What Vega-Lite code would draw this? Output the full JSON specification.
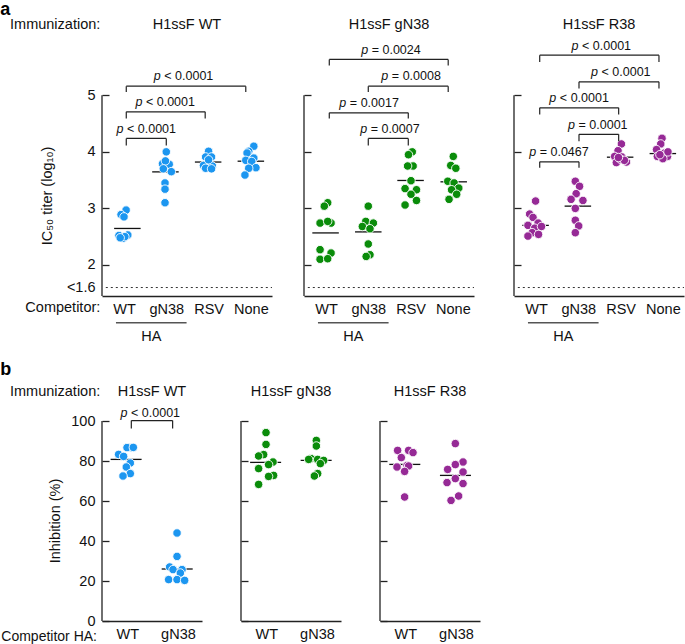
{
"$schema":"https://vega.github.io/schema/vega-lite/v6.json",
"padding":{"left":0,"top":0,"right":0,"bottom":0},
"config":{"font":"Liberation Sans","view":{"stroke":null},
"axis":{"grid":false,"labelFontSize":14.5,"labelColor":"#111","domainColor":"#222","tickColor":"#222","titleFontWeight":"normal","titleFontSize":14.5,"titleColor":"#111"}},
"datasets":{
"one":[{}],
"pts":[
{"row":"a","panel":"WT","comp":"WT","pos":1.05,"val":2.97},{"row":"a","panel":"WT","comp":"WT","pos":0.93,"val":2.89},{"row":"a","panel":"WT","comp":"WT","pos":1.0,"val":2.85},{"row":"a","panel":"WT","comp":"WT","pos":0.88,"val":2.52},{"row":"a","panel":"WT","comp":"WT","pos":1.09,"val":2.53},{"row":"a","panel":"WT","comp":"WT","pos":0.98,"val":2.47},{"row":"a","panel":"WT","comp":"WT","pos":1.02,"val":2.50},{"row":"a","panel":"WT","comp":"WT","pos":0.91,"val":2.48},
{"row":"a","panel":"WT","comp":"gN38","pos":2.0,"val":4.00},{"row":"a","panel":"WT","comp":"gN38","pos":1.91,"val":3.79},{"row":"a","panel":"WT","comp":"gN38","pos":2.07,"val":3.78},{"row":"a","panel":"WT","comp":"gN38","pos":2.12,"val":3.65},{"row":"a","panel":"WT","comp":"gN38","pos":1.98,"val":3.84},{"row":"a","panel":"WT","comp":"gN38","pos":1.97,"val":3.45},{"row":"a","panel":"WT","comp":"gN38","pos":1.97,"val":3.34},{"row":"a","panel":"WT","comp":"gN38","pos":1.97,"val":3.10},{"row":"a","panel":"WT","comp":"gN38","pos":1.93,"val":3.70},
{"row":"a","panel":"WT","comp":"RSV","pos":3.0,"val":4.01},{"row":"a","panel":"WT","comp":"RSV","pos":2.93,"val":3.91},{"row":"a","panel":"WT","comp":"RSV","pos":3.07,"val":3.91},{"row":"a","panel":"WT","comp":"RSV","pos":3.0,"val":3.81},{"row":"a","panel":"WT","comp":"RSV","pos":2.88,"val":3.76},{"row":"a","panel":"WT","comp":"RSV","pos":3.09,"val":3.75},{"row":"a","panel":"WT","comp":"RSV","pos":2.93,"val":3.71},{"row":"a","panel":"WT","comp":"RSV","pos":3.07,"val":3.70},{"row":"a","panel":"WT","comp":"RSV","pos":3.0,"val":3.86},
{"row":"a","panel":"WT","comp":"None","pos":4.07,"val":4.10},{"row":"a","panel":"WT","comp":"None","pos":3.95,"val":4.01},{"row":"a","panel":"WT","comp":"None","pos":3.91,"val":3.98},{"row":"a","panel":"WT","comp":"None","pos":4.07,"val":3.89},{"row":"a","panel":"WT","comp":"None","pos":3.88,"val":3.85},{"row":"a","panel":"WT","comp":"None","pos":4.02,"val":3.83},{"row":"a","panel":"WT","comp":"None","pos":4.12,"val":3.72},{"row":"a","panel":"WT","comp":"None","pos":3.95,"val":3.71},{"row":"a","panel":"WT","comp":"None","pos":3.86,"val":3.59},
{"row":"a","panel":"gN38","comp":"WT","pos":1.04,"val":3.10},{"row":"a","panel":"gN38","comp":"WT","pos":0.96,"val":3.04},{"row":"a","panel":"gN38","comp":"WT","pos":0.86,"val":2.74},{"row":"a","panel":"gN38","comp":"WT","pos":1.12,"val":2.74},{"row":"a","panel":"gN38","comp":"WT","pos":1.04,"val":2.77},{"row":"a","panel":"gN38","comp":"WT","pos":0.86,"val":2.27},{"row":"a","panel":"gN38","comp":"WT","pos":1.12,"val":2.21},{"row":"a","panel":"gN38","comp":"WT","pos":0.86,"val":2.10},{"row":"a","panel":"gN38","comp":"WT","pos":1.04,"val":2.11},
{"row":"a","panel":"gN38","comp":"gN38","pos":2.0,"val":3.04},{"row":"a","panel":"gN38","comp":"gN38","pos":1.94,"val":2.77},{"row":"a","panel":"gN38","comp":"gN38","pos":2.12,"val":2.74},{"row":"a","panel":"gN38","comp":"gN38","pos":1.86,"val":2.68},{"row":"a","panel":"gN38","comp":"gN38","pos":2.04,"val":2.64},{"row":"a","panel":"gN38","comp":"gN38","pos":2.0,"val":2.37},{"row":"a","panel":"gN38","comp":"gN38","pos":2.04,"val":2.18},{"row":"a","panel":"gN38","comp":"gN38","pos":1.95,"val":2.15},
{"row":"a","panel":"gN38","comp":"RSV","pos":3.04,"val":4.0},{"row":"a","panel":"gN38","comp":"RSV","pos":2.95,"val":3.95},{"row":"a","panel":"gN38","comp":"RSV","pos":3.06,"val":3.75},{"row":"a","panel":"gN38","comp":"RSV","pos":2.93,"val":3.75},{"row":"a","panel":"gN38","comp":"RSV","pos":3.01,"val":3.49},{"row":"a","panel":"gN38","comp":"RSV","pos":2.87,"val":3.35},{"row":"a","panel":"gN38","comp":"RSV","pos":3.14,"val":3.33},{"row":"a","panel":"gN38","comp":"RSV","pos":3.01,"val":3.25},{"row":"a","panel":"gN38","comp":"RSV","pos":3.14,"val":3.14},{"row":"a","panel":"gN38","comp":"RSV","pos":2.87,"val":3.06},
{"row":"a","panel":"gN38","comp":"None","pos":4.01,"val":3.92},{"row":"a","panel":"gN38","comp":"None","pos":3.95,"val":3.76},{"row":"a","panel":"gN38","comp":"None","pos":4.07,"val":3.71},{"row":"a","panel":"gN38","comp":"None","pos":3.88,"val":3.48},{"row":"a","panel":"gN38","comp":"None","pos":4.03,"val":3.45},{"row":"a","panel":"gN38","comp":"None","pos":4.14,"val":3.36},{"row":"a","panel":"gN38","comp":"None","pos":3.97,"val":3.33},{"row":"a","panel":"gN38","comp":"None","pos":4.09,"val":3.25},{"row":"a","panel":"gN38","comp":"None","pos":3.91,"val":3.16},
{"row":"a","panel":"R38","comp":"WT","pos":0.99,"val":3.13},{"row":"a","panel":"R38","comp":"WT","pos":0.85,"val":2.90},{"row":"a","panel":"R38","comp":"WT","pos":0.93,"val":2.84},{"row":"a","panel":"R38","comp":"WT","pos":1.05,"val":2.74},{"row":"a","panel":"R38","comp":"WT","pos":0.81,"val":2.70},{"row":"a","panel":"R38","comp":"WT","pos":0.97,"val":2.65},{"row":"a","panel":"R38","comp":"WT","pos":1.13,"val":2.68},{"row":"a","panel":"R38","comp":"WT","pos":0.91,"val":2.57},{"row":"a","panel":"R38","comp":"WT","pos":1.06,"val":2.54},{"row":"a","panel":"R38","comp":"WT","pos":0.81,"val":2.51},
{"row":"a","panel":"R38","comp":"gN38","pos":1.93,"val":3.48},{"row":"a","panel":"R38","comp":"gN38","pos":2.03,"val":3.39},{"row":"a","panel":"R38","comp":"gN38","pos":1.95,"val":3.26},{"row":"a","panel":"R38","comp":"gN38","pos":1.83,"val":3.16},{"row":"a","panel":"R38","comp":"gN38","pos":2.11,"val":3.14},{"row":"a","panel":"R38","comp":"gN38","pos":1.93,"val":3.0},{"row":"a","panel":"R38","comp":"gN38","pos":1.93,"val":2.79},{"row":"a","panel":"R38","comp":"gN38","pos":2.01,"val":2.69},{"row":"a","panel":"R38","comp":"gN38","pos":1.93,"val":2.57},
{"row":"a","panel":"R38","comp":"RSV","pos":3.02,"val":4.14},{"row":"a","panel":"R38","comp":"RSV","pos":2.94,"val":4.02},{"row":"a","panel":"R38","comp":"RSV","pos":2.86,"val":3.92},{"row":"a","panel":"R38","comp":"RSV","pos":3.03,"val":3.91},{"row":"a","panel":"R38","comp":"RSV","pos":3.14,"val":3.82},{"row":"a","panel":"R38","comp":"RSV","pos":2.9,"val":3.81},{"row":"a","panel":"R38","comp":"RSV","pos":3.0,"val":3.87},{"row":"a","panel":"R38","comp":"RSV","pos":3.09,"val":3.85},{"row":"a","panel":"R38","comp":"RSV","pos":2.95,"val":3.90},
{"row":"a","panel":"R38","comp":"None","pos":3.98,"val":4.24},{"row":"a","panel":"R38","comp":"None","pos":3.95,"val":4.14},{"row":"a","panel":"R38","comp":"None","pos":3.85,"val":4.04},{"row":"a","panel":"R38","comp":"None","pos":4.04,"val":3.98},{"row":"a","panel":"R38","comp":"None","pos":3.87,"val":3.92},{"row":"a","panel":"R38","comp":"None","pos":4.11,"val":3.92},{"row":"a","panel":"R38","comp":"None","pos":4.0,"val":3.88},{"row":"a","panel":"R38","comp":"None","pos":4.12,"val":4.0},{"row":"a","panel":"R38","comp":"None","pos":3.93,"val":3.95},
{"row":"b","panel":"WT","comp":"WT","pos":1.073,"val":86.7},{"row":"b","panel":"WT","comp":"WT","pos":0.994,"val":86.7},{"row":"b","panel":"WT","comp":"WT","pos":1.119,"val":86.8},{"row":"b","panel":"WT","comp":"WT","pos":0.828,"val":83.3},{"row":"b","panel":"WT","comp":"WT","pos":0.927,"val":82.3},{"row":"b","panel":"WT","comp":"WT","pos":1.059,"val":79},{"row":"b","panel":"WT","comp":"WT","pos":0.98,"val":77},{"row":"b","panel":"WT","comp":"WT","pos":1.059,"val":73.7},{"row":"b","panel":"WT","comp":"WT","pos":0.915,"val":72.5},
{"row":"b","panel":"WT","comp":"gN38","pos":1.982,"val":44},{"row":"b","panel":"WT","comp":"gN38","pos":1.982,"val":32.3},{"row":"b","panel":"WT","comp":"gN38","pos":1.836,"val":27},{"row":"b","panel":"WT","comp":"gN38","pos":1.903,"val":25.7},{"row":"b","panel":"WT","comp":"gN38","pos":2.081,"val":25.7},{"row":"b","panel":"WT","comp":"gN38","pos":2.047,"val":24},{"row":"b","panel":"WT","comp":"gN38","pos":1.816,"val":20.7},{"row":"b","panel":"WT","comp":"gN38","pos":1.982,"val":20.7},{"row":"b","panel":"WT","comp":"gN38","pos":2.132,"val":20.3},
{"row":"b","panel":"gN38","comp":"WT","pos":0.994,"val":94.2},{"row":"b","panel":"gN38","comp":"WT","pos":0.994,"val":88.3},{"row":"b","panel":"gN38","comp":"WT","pos":0.947,"val":83.2},{"row":"b","panel":"gN38","comp":"WT","pos":0.848,"val":82.5},{"row":"b","panel":"gN38","comp":"WT","pos":1.132,"val":79.5},{"row":"b","panel":"gN38","comp":"WT","pos":1.045,"val":78.2},{"row":"b","panel":"gN38","comp":"WT","pos":0.848,"val":76.2},{"row":"b","panel":"gN38","comp":"WT","pos":1.144,"val":72.8},{"row":"b","panel":"gN38","comp":"WT","pos":1.045,"val":72.3},{"row":"b","panel":"gN38","comp":"WT","pos":0.848,"val":68.3},
{"row":"b","panel":"gN38","comp":"gN38","pos":1.988,"val":90.3},{"row":"b","panel":"gN38","comp":"gN38","pos":1.988,"val":87.5},{"row":"b","panel":"gN38","comp":"gN38","pos":1.883,"val":81.2},{"row":"b","panel":"gN38","comp":"gN38","pos":2.014,"val":80.8},{"row":"b","panel":"gN38","comp":"gN38","pos":2.132,"val":80.3},{"row":"b","panel":"gN38","comp":"gN38","pos":1.836,"val":80.8},{"row":"b","panel":"gN38","comp":"gN38","pos":2.067,"val":78.7},{"row":"b","panel":"gN38","comp":"gN38","pos":2.014,"val":73.7},{"row":"b","panel":"gN38","comp":"gN38","pos":1.949,"val":72.5},
{"row":"b","panel":"R38","comp":"WT","pos":0.848,"val":85.3},{"row":"b","panel":"R38","comp":"WT","pos":1.065,"val":85.3},{"row":"b","panel":"R38","comp":"WT","pos":1.152,"val":84.2},{"row":"b","panel":"R38","comp":"WT","pos":0.921,"val":81.7},{"row":"b","panel":"R38","comp":"WT","pos":1.034,"val":77.8},{"row":"b","panel":"R38","comp":"WT","pos":0.836,"val":77},{"row":"b","panel":"R38","comp":"WT","pos":1.065,"val":77.5},{"row":"b","panel":"R38","comp":"WT","pos":0.986,"val":74.8},{"row":"b","panel":"R38","comp":"WT","pos":0.986,"val":62},
{"row":"b","panel":"R38","comp":"gN38","pos":1.988,"val":88.7},{"row":"b","panel":"R38","comp":"gN38","pos":2.14,"val":79.5},{"row":"b","panel":"R38","comp":"gN38","pos":1.988,"val":78.2},{"row":"b","panel":"R38","comp":"gN38","pos":1.836,"val":75.8},{"row":"b","panel":"R38","comp":"gN38","pos":2.14,"val":74.5},{"row":"b","panel":"R38","comp":"gN38","pos":1.988,"val":71.2},{"row":"b","panel":"R38","comp":"gN38","pos":1.824,"val":69.2},{"row":"b","panel":"R38","comp":"gN38","pos":2.14,"val":68.7},{"row":"b","panel":"R38","comp":"gN38","pos":2.053,"val":62.5},{"row":"b","panel":"R38","comp":"gN38","pos":1.903,"val":60.3}
],
"means":[
{"row":"a","panel":"WT","comp":"WT","pos":1.08,"mean":2.645},{"row":"a","panel":"WT","comp":"gN38","pos":1.98,"mean":3.646},{"row":"a","panel":"WT","comp":"RSV","pos":2.99,"mean":3.82},{"row":"a","panel":"WT","comp":"None","pos":4.0,"mean":3.835},
{"row":"a","panel":"gN38","comp":"WT","pos":0.99,"mean":2.566},{"row":"a","panel":"gN38","comp":"gN38","pos":2.0,"mean":2.584},{"row":"a","panel":"gN38","comp":"RSV","pos":3.0,"mean":3.494},{"row":"a","panel":"gN38","comp":"None","pos":4.02,"mean":3.47},
{"row":"a","panel":"R38","comp":"WT","pos":0.99,"mean":2.70},{"row":"a","panel":"R38","comp":"gN38","pos":1.99,"mean":3.04},{"row":"a","panel":"R38","comp":"RSV","pos":2.99,"mean":3.906},{"row":"a","panel":"R38","comp":"None","pos":4.0,"mean":3.97},
{"row":"b","panel":"WT","comp":"WT","pos":0.976,"mean":80.8},{"row":"b","panel":"WT","comp":"gN38","pos":1.985,"mean":26.0},
{"row":"b","panel":"gN38","comp":"WT","pos":0.986,"mean":79.3},{"row":"b","panel":"gN38","comp":"gN38","pos":1.984,"mean":80.3},
{"row":"b","panel":"R38","comp":"WT","pos":0.99,"mean":78.3},{"row":"b","panel":"R38","comp":"gN38","pos":1.99,"mean":72.8}
],
"brackets":[
{"row":"a","panel":"WT","x1":1.054,"x2":2.0,"top":4.237,"bot":4.113,"tx":1.527,"pv":"< 0.0001"},
{"row":"a","panel":"WT","x1":1.054,"x2":2.92,"top":4.708,"bot":4.59,"tx":1.976,"pv":"< 0.0001"},
{"row":"a","panel":"WT","x1":1.054,"x2":3.88,"top":5.163,"bot":5.06,"tx":2.41,"pv":"< 0.0001"},
{"row":"a","panel":"gN38","x1":2.0,"x2":2.946,"top":4.237,"bot":4.113,"tx":2.513,"pv":"= 0.0007"},
{"row":"a","panel":"gN38","x1":1.078,"x2":2.946,"top":4.69,"bot":4.59,"tx":2.021,"pv":"= 0.0017"},
{"row":"a","panel":"gN38","x1":2.0,"x2":3.89,"top":5.163,"bot":5.06,"tx":3.014,"pv":"= 0.0008"},
{"row":"a","panel":"gN38","x1":1.078,"x2":3.89,"top":5.635,"bot":5.53,"tx":2.537,"pv":"= 0.0024"},
{"row":"a","panel":"R38","x1":1.088,"x2":2.017,"top":3.823,"bot":3.717,"tx":1.544,"pv":"= 0.0467"},
{"row":"a","panel":"R38","x1":2.017,"x2":2.955,"top":4.31,"bot":4.19,"tx":2.463,"pv":"= 0.0001"},
{"row":"a","panel":"R38","x1":1.088,"x2":2.955,"top":4.78,"bot":4.66,"tx":2.021,"pv":"< 0.0001"},
{"row":"a","panel":"R38","x1":2.017,"x2":3.908,"top":5.24,"bot":5.12,"tx":3.007,"pv":"< 0.0001"},
{"row":"a","panel":"R38","x1":1.088,"x2":3.908,"top":5.71,"bot":5.59,"tx":2.546,"pv":"< 0.0001"},
{"row":"b","panel":"WT","x1":1.079,"x2":1.895,"top":100.2,"bot":96.2,"tx":1.455,"pv":"< 0.0001"}
]
},
"spacing":17,
"vconcat":[
{"hconcat":[
{"width":170,"height":260,"layer":[
{"data":{"name":"means"},"transform":[{"filter":"datum.row==='a'&&datum.panel==='WT'"}],"mark":{"type":"tick","orient":"horizontal","size":26.5,"thickness":1.3,"color":"#111","opacity":1},"encoding":{"x":{"field":"pos","type":"quantitative","scale":{"domain":[0.48,4.5],"nice":false,"zero":false}},"y":{"field":"mean","type":"quantitative","scale":{"domain":[1.45,6.05],"nice":false,"zero":false}}}},
{"data":{"name":"pts"},"transform":[{"filter":"datum.row==='a'&&datum.panel==='WT'"}],"mark":{"type":"circle","size":72,"color":"#1C96F0","opacity":1,"stroke":"white","strokeWidth":0.9},"encoding":{"x":{"field":"pos","type":"quantitative","scale":{"domain":[0.48,4.5],"nice":false,"zero":false},"axis":{"values":[1,2,3,4],"labelExpr":"datum.value===1?'WT':datum.value===2?'gN38':datum.value===3?'RSV':'None'","ticks":false,"domain":true,"domainWidth":1.3,"labelPadding":6.5,"title":null}},"y":{"field":"val","type":"quantitative","scale":{"domain":[1.45,6.05],"nice":false,"zero":false},"axis":{"values":[1.6,2,3,4,5],"labelExpr":"datum.value===1.6?'<1.6':format(datum.value,'d')","domain":false,"tickSize":-7,"tickWidth":1.3,"tickOpacity":{"condition":{"test":"datum.value===1.6","value":0},"value":1},"labelPadding":14,"title":"IC₅₀ titer (log₁₀)","titleX":-55,"titleY":159.5,"titleAngle":-90,"titleBaseline":"middle","titleAlign":"center"}}}},
{"data":{"name":"one"},"mark":{"type":"rule","color":"#222","strokeWidth":1.3},"encoding":{"x":{"datum":0.48,"type":"quantitative"},"y":{"datum":1.45,"type":"quantitative"},"y2":{"datum":5}}},
{"data":{"name":"one"},"mark":{"type":"rule","color":"#333","strokeWidth":1,"strokeDash":[2,3]},"encoding":{"x":{"datum":0.57,"type":"quantitative"},"x2":{"datum":4.5},"y":{"datum":1.6,"type":"quantitative"}}},
{"data":{"name":"brackets"},"transform":[{"filter":"datum.row==='a'&&datum.panel==='WT'"}],"mark":{"type":"rule","color":"#222","strokeWidth":1.2},"encoding":{"x":{"field":"x1","type":"quantitative"},"x2":{"field":"x2"},"y":{"field":"top","type":"quantitative"}}},
{"data":{"name":"brackets"},"transform":[{"filter":"datum.row==='a'&&datum.panel==='WT'"}],"mark":{"type":"rule","color":"#222","strokeWidth":1.2},"encoding":{"x":{"field":"x1","type":"quantitative"},"y":{"field":"top","type":"quantitative"},"y2":{"field":"bot"}}},
{"data":{"name":"brackets"},"transform":[{"filter":"datum.row==='a'&&datum.panel==='WT'"}],"mark":{"type":"rule","color":"#222","strokeWidth":1.2},"encoding":{"x":{"field":"x2","type":"quantitative"},"y":{"field":"top","type":"quantitative"},"y2":{"field":"bot"}}},
{"data":{"name":"brackets"},"transform":[{"filter":"datum.row==='a'&&datum.panel==='WT'"}],"mark":{"type":"text","text":"p","fontStyle":"italic","fontSize":12.5,"align":"left","baseline":"middle","dx":-29.8,"dy":-9.7,"color":"#111"},"encoding":{"x":{"field":"tx","type":"quantitative"},"y":{"field":"top","type":"quantitative"}}},
{"data":{"name":"brackets"},"transform":[{"filter":"datum.row==='a'&&datum.panel==='WT'"}],"mark":{"type":"text","fontSize":12.5,"align":"left","baseline":"middle","dx":-19.3,"dy":-9.7,"color":"#111"},"encoding":{"x":{"field":"tx","type":"quantitative"},"y":{"field":"top","type":"quantitative"},"text":{"field":"pv"}}},
{"data":{"name":"one"},"mark":{"type":"rule","color":"#555","strokeWidth":1.5},"encoding":{"x":{"datum":0.81,"type":"quantitative"},"x2":{"datum":2.48},"y":{"datum":0.977,"type":"quantitative"}}},
{"data":{"name":"one"},"mark":{"type":"text","text":"HA","fontSize":14.5,"align":"center","baseline":"middle","color":"#111"},"encoding":{"x":{"datum":1.645,"type":"quantitative"},"y":{"datum":0.729,"type":"quantitative"}}},
{"data":{"name":"one"},"mark":{"type":"text","text":"H1ssF WT","fontSize":14.5,"align":"center","baseline":"middle","color":"#111"},"encoding":{"x":{"datum":2.49,"type":"quantitative"},"y":{"datum":6.243,"type":"quantitative"}}},
{"data":{"name":"one"},"mark":{"type":"text","text":"Immunization:","fontSize":14.5,"align":"right","baseline":"middle","color":"#111"},"encoding":{"x":{"datum":0.44,"type":"quantitative"},"y":{"datum":6.243,"type":"quantitative"}}},
{"data":{"name":"one"},"mark":{"type":"text","text":"Competitor:","fontSize":14.5,"align":"right","baseline":"middle","color":"#111"},"encoding":{"x":{"datum":0.44,"type":"quantitative"},"y":{"datum":1.235,"type":"quantitative"}}},
{"data":{"name":"one"},"mark":{"type":"text","text":"a","fontSize":18,"fontWeight":"bold","align":"left","baseline":"middle","color":"#000"},"encoding":{"x":{"datum":-1.924,"type":"quantitative"},"y":{"datum":6.517,"type":"quantitative"}}}
]},
{"hconcat":[
{"width":170,"height":260,"layer":[
{"data":{"name":"means"},"transform":[{"filter":"datum.row==='a'&&datum.panel==='gN38'"}],"mark":{"type":"tick","orient":"horizontal","size":26.5,"thickness":1.3,"color":"#111","opacity":1},"encoding":{"x":{"field":"pos","type":"quantitative","scale":{"domain":[0.48,4.5],"nice":false,"zero":false}},"y":{"field":"mean","type":"quantitative","scale":{"domain":[1.45,6.05],"nice":false,"zero":false}}}},
{"data":{"name":"pts"},"transform":[{"filter":"datum.row==='a'&&datum.panel==='gN38'"}],"mark":{"type":"circle","size":72,"color":"#0A8C0A","opacity":1,"stroke":"white","strokeWidth":0.9},"encoding":{"x":{"field":"pos","type":"quantitative","scale":{"domain":[0.48,4.5],"nice":false,"zero":false},"axis":{"values":[1,2,3,4],"labelExpr":"datum.value===1?'WT':datum.value===2?'gN38':datum.value===3?'RSV':'None'","ticks":false,"domain":true,"domainWidth":1.3,"labelPadding":6.5,"title":null}},"y":{"field":"val","type":"quantitative","scale":{"domain":[1.45,6.05],"nice":false,"zero":false},"axis":{"values":[2,3,4,5],"labels":false,"domain":false,"tickSize":-7,"tickWidth":1.3,"title":null}}}},
{"data":{"name":"one"},"mark":{"type":"rule","color":"#222","strokeWidth":1.3},"encoding":{"x":{"datum":0.48,"type":"quantitative"},"y":{"datum":1.45,"type":"quantitative"},"y2":{"datum":5}}},
{"data":{"name":"one"},"mark":{"type":"rule","color":"#333","strokeWidth":1,"strokeDash":[2,3]},"encoding":{"x":{"datum":0.57,"type":"quantitative"},"x2":{"datum":4.5},"y":{"datum":1.6,"type":"quantitative"}}},
{"data":{"name":"brackets"},"transform":[{"filter":"datum.row==='a'&&datum.panel==='gN38'"}],"mark":{"type":"rule","color":"#222","strokeWidth":1.2},"encoding":{"x":{"field":"x1","type":"quantitative"},"x2":{"field":"x2"},"y":{"field":"top","type":"quantitative"}}},
{"data":{"name":"brackets"},"transform":[{"filter":"datum.row==='a'&&datum.panel==='gN38'"}],"mark":{"type":"rule","color":"#222","strokeWidth":1.2},"encoding":{"x":{"field":"x1","type":"quantitative"},"y":{"field":"top","type":"quantitative"},"y2":{"field":"bot"}}},
{"data":{"name":"brackets"},"transform":[{"filter":"datum.row==='a'&&datum.panel==='gN38'"}],"mark":{"type":"rule","color":"#222","strokeWidth":1.2},"encoding":{"x":{"field":"x2","type":"quantitative"},"y":{"field":"top","type":"quantitative"},"y2":{"field":"bot"}}},
{"data":{"name":"brackets"},"transform":[{"filter":"datum.row==='a'&&datum.panel==='gN38'"}],"mark":{"type":"text","text":"p","fontStyle":"italic","fontSize":12.5,"align":"left","baseline":"middle","dx":-29.8,"dy":-9.7,"color":"#111"},"encoding":{"x":{"field":"tx","type":"quantitative"},"y":{"field":"top","type":"quantitative"}}},
{"data":{"name":"brackets"},"transform":[{"filter":"datum.row==='a'&&datum.panel==='gN38'"}],"mark":{"type":"text","fontSize":12.5,"align":"left","baseline":"middle","dx":-19.3,"dy":-9.7,"color":"#111"},"encoding":{"x":{"field":"tx","type":"quantitative"},"y":{"field":"top","type":"quantitative"},"text":{"field":"pv"}}},
{"data":{"name":"one"},"mark":{"type":"rule","color":"#555","strokeWidth":1.5},"encoding":{"x":{"datum":0.81,"type":"quantitative"},"x2":{"datum":2.48},"y":{"datum":0.977,"type":"quantitative"}}},
{"data":{"name":"one"},"mark":{"type":"text","text":"HA","fontSize":14.5,"align":"center","baseline":"middle","color":"#111"},"encoding":{"x":{"datum":1.645,"type":"quantitative"},"y":{"datum":0.729,"type":"quantitative"}}},
{"data":{"name":"one"},"mark":{"type":"text","text":"H1ssF gN38","fontSize":14.5,"align":"center","baseline":"middle","color":"#111"},"encoding":{"x":{"datum":2.49,"type":"quantitative"},"y":{"datum":6.243,"type":"quantitative"}}}
]},
{"width":170,"height":260,"layer":[
{"data":{"name":"means"},"transform":[{"filter":"datum.row==='a'&&datum.panel==='R38'"}],"mark":{"type":"tick","orient":"horizontal","size":26.5,"thickness":1.3,"color":"#111","opacity":1},"encoding":{"x":{"field":"pos","type":"quantitative","scale":{"domain":[0.48,4.5],"nice":false,"zero":false}},"y":{"field":"mean","type":"quantitative","scale":{"domain":[1.45,6.05],"nice":false,"zero":false}}}},
{"data":{"name":"pts"},"transform":[{"filter":"datum.row==='a'&&datum.panel==='R38'"}],"mark":{"type":"circle","size":72,"color":"#962A96","opacity":1,"stroke":"white","strokeWidth":0.9},"encoding":{"x":{"field":"pos","type":"quantitative","scale":{"domain":[0.48,4.5],"nice":false,"zero":false},"axis":{"values":[1,2,3,4],"labelExpr":"datum.value===1?'WT':datum.value===2?'gN38':datum.value===3?'RSV':'None'","ticks":false,"domain":true,"domainWidth":1.3,"labelPadding":6.5,"title":null}},"y":{"field":"val","type":"quantitative","scale":{"domain":[1.45,6.05],"nice":false,"zero":false},"axis":{"values":[2,3,4,5],"labels":false,"domain":false,"tickSize":-7,"tickWidth":1.3,"title":null}}}},
{"data":{"name":"one"},"mark":{"type":"rule","color":"#222","strokeWidth":1.3},"encoding":{"x":{"datum":0.48,"type":"quantitative"},"y":{"datum":1.45,"type":"quantitative"},"y2":{"datum":5}}},
{"data":{"name":"one"},"mark":{"type":"rule","color":"#333","strokeWidth":1,"strokeDash":[2,3]},"encoding":{"x":{"datum":0.57,"type":"quantitative"},"x2":{"datum":4.5},"y":{"datum":1.6,"type":"quantitative"}}},
{"data":{"name":"brackets"},"transform":[{"filter":"datum.row==='a'&&datum.panel==='R38'"}],"mark":{"type":"rule","color":"#222","strokeWidth":1.2},"encoding":{"x":{"field":"x1","type":"quantitative"},"x2":{"field":"x2"},"y":{"field":"top","type":"quantitative"}}},
{"data":{"name":"brackets"},"transform":[{"filter":"datum.row==='a'&&datum.panel==='R38'"}],"mark":{"type":"rule","color":"#222","strokeWidth":1.2},"encoding":{"x":{"field":"x1","type":"quantitative"},"y":{"field":"top","type":"quantitative"},"y2":{"field":"bot"}}},
{"data":{"name":"brackets"},"transform":[{"filter":"datum.row==='a'&&datum.panel==='R38'"}],"mark":{"type":"rule","color":"#222","strokeWidth":1.2},"encoding":{"x":{"field":"x2","type":"quantitative"},"y":{"field":"top","type":"quantitative"},"y2":{"field":"bot"}}},
{"data":{"name":"brackets"},"transform":[{"filter":"datum.row==='a'&&datum.panel==='R38'"}],"mark":{"type":"text","text":"p","fontStyle":"italic","fontSize":12.5,"align":"left","baseline":"middle","dx":-29.8,"dy":-9.7,"color":"#111"},"encoding":{"x":{"field":"tx","type":"quantitative"},"y":{"field":"top","type":"quantitative"}}},
{"data":{"name":"brackets"},"transform":[{"filter":"datum.row==='a'&&datum.panel==='R38'"}],"mark":{"type":"text","fontSize":12.5,"align":"left","baseline":"middle","dx":-19.3,"dy":-9.7,"color":"#111"},"encoding":{"x":{"field":"tx","type":"quantitative"},"y":{"field":"top","type":"quantitative"},"text":{"field":"pv"}}},
{"data":{"name":"one"},"mark":{"type":"rule","color":"#555","strokeWidth":1.5},"encoding":{"x":{"datum":0.81,"type":"quantitative"},"x2":{"datum":2.48},"y":{"datum":0.977,"type":"quantitative"}}},
{"data":{"name":"one"},"mark":{"type":"text","text":"HA","fontSize":14.5,"align":"center","baseline":"middle","color":"#111"},"encoding":{"x":{"datum":1.645,"type":"quantitative"},"y":{"datum":0.729,"type":"quantitative"}}},
{"data":{"name":"one"},"mark":{"type":"text","text":"H1ssF R38","fontSize":14.5,"align":"center","baseline":"middle","color":"#111"},"encoding":{"x":{"datum":2.49,"type":"quantitative"},"y":{"datum":6.243,"type":"quantitative"}}}
]}
],"spacing":40,"bounds":"flush"}
],"spacing":32,"bounds":"flush"},
{"hconcat":[
{"width":100,"height":218,"layer":[
{"data":{"name":"means"},"transform":[{"filter":"datum.row==='b'&&datum.panel==='WT'"}],"mark":{"type":"tick","orient":"horizontal","size":31,"thickness":1.3,"color":"#111","opacity":1},"encoding":{"x":{"field":"pos","type":"quantitative","scale":{"domain":[0.5,2.475],"nice":false,"zero":false}},"y":{"field":"mean","type":"quantitative","scale":{"domain":[0,109],"nice":false,"zero":false}}}},
{"data":{"name":"pts"},"transform":[{"filter":"datum.row==='b'&&datum.panel==='WT'"}],"mark":{"type":"circle","size":72,"color":"#1C96F0","opacity":1,"stroke":"white","strokeWidth":0.9},"encoding":{"x":{"field":"pos","type":"quantitative","scale":{"domain":[0.5,2.475],"nice":false,"zero":false},"axis":{"values":[1,2],"labelExpr":"datum.value===1?'WT':'gN38'","ticks":false,"domain":true,"domainWidth":1.3,"labelPadding":6.5,"title":null}},"y":{"field":"val","type":"quantitative","scale":{"domain":[0,109],"nice":false,"zero":false},"axis":{"values":[0,20,40,60,80,100],"format":"d","domain":false,"tickSize":-7,"tickWidth":1.3,"labelPadding":14,"title":"Inhibition (%)","titleX":-46.7,"titleY":117.5,"titleAngle":-90,"titleBaseline":"middle","titleAlign":"center"}}}},
{"data":{"name":"one"},"mark":{"type":"rule","color":"#222","strokeWidth":1.3},"encoding":{"x":{"datum":0.5,"type":"quantitative"},"y":{"datum":0,"type":"quantitative"},"y2":{"datum":100}}},
{"data":{"name":"brackets"},"transform":[{"filter":"datum.row==='b'&&datum.panel==='WT'"}],"mark":{"type":"rule","color":"#222","strokeWidth":1.2},"encoding":{"x":{"field":"x1","type":"quantitative"},"x2":{"field":"x2"},"y":{"field":"top","type":"quantitative"}}},
{"data":{"name":"brackets"},"transform":[{"filter":"datum.row==='b'&&datum.panel==='WT'"}],"mark":{"type":"rule","color":"#222","strokeWidth":1.2},"encoding":{"x":{"field":"x1","type":"quantitative"},"y":{"field":"top","type":"quantitative"},"y2":{"field":"bot"}}},
{"data":{"name":"brackets"},"transform":[{"filter":"datum.row==='b'&&datum.panel==='WT'"}],"mark":{"type":"rule","color":"#222","strokeWidth":1.2},"encoding":{"x":{"field":"x2","type":"quantitative"},"y":{"field":"top","type":"quantitative"},"y2":{"field":"bot"}}},
{"data":{"name":"brackets"},"transform":[{"filter":"datum.row==='b'&&datum.panel==='WT'"}],"mark":{"type":"text","text":"p","fontStyle":"italic","fontSize":12.5,"align":"left","baseline":"middle","dx":-29.8,"dy":-7.5,"color":"#111"},"encoding":{"x":{"field":"tx","type":"quantitative"},"y":{"field":"top","type":"quantitative"}}},
{"data":{"name":"brackets"},"transform":[{"filter":"datum.row==='b'&&datum.panel==='WT'"}],"mark":{"type":"text","fontSize":12.5,"align":"left","baseline":"middle","dx":-19.3,"dy":-7.5,"color":"#111"},"encoding":{"x":{"field":"tx","type":"quantitative"},"y":{"field":"top","type":"quantitative"},"text":{"field":"pv"}}},
{"data":{"name":"one"},"mark":{"type":"text","text":"H1ssF WT","fontSize":14.5,"align":"center","baseline":"middle","color":"#111"},"encoding":{"x":{"datum":1.4875,"type":"quantitative"},"y":{"datum":114.5,"type":"quantitative"}}},
{"data":{"name":"one"},"mark":{"type":"text","text":"Immunization:","fontSize":14.5,"align":"right","baseline":"middle","color":"#111"},"encoding":{"x":{"datum":0.466,"type":"quantitative"},"y":{"datum":114.5,"type":"quantitative"}}},
{"data":{"name":"one"},"mark":{"type":"text","text":"Competitor HA:","fontSize":14,"align":"right","baseline":"middle","color":"#111"},"encoding":{"x":{"datum":0.401,"type":"quantitative"},"y":{"datum":-8.0,"type":"quantitative"}}},
{"data":{"name":"one"},"mark":{"type":"text","text":"b","fontSize":18,"fontWeight":"bold","align":"left","baseline":"middle","color":"#000"},"encoding":{"x":{"datum":-1.509,"type":"quantitative"},"y":{"datum":125.35,"type":"quantitative"}}}
]},
{"width":100,"height":218,"layer":[
{"data":{"name":"means"},"transform":[{"filter":"datum.row==='b'&&datum.panel==='gN38'"}],"mark":{"type":"tick","orient":"horizontal","size":31,"thickness":1.3,"color":"#111","opacity":1},"encoding":{"x":{"field":"pos","type":"quantitative","scale":{"domain":[0.5,2.475],"nice":false,"zero":false}},"y":{"field":"mean","type":"quantitative","scale":{"domain":[0,109],"nice":false,"zero":false}}}},
{"data":{"name":"pts"},"transform":[{"filter":"datum.row==='b'&&datum.panel==='gN38'"}],"mark":{"type":"circle","size":72,"color":"#0A8C0A","opacity":1,"stroke":"white","strokeWidth":0.9},"encoding":{"x":{"field":"pos","type":"quantitative","scale":{"domain":[0.5,2.475],"nice":false,"zero":false},"axis":{"values":[1,2],"labelExpr":"datum.value===1?'WT':'gN38'","ticks":false,"domain":true,"domainWidth":1.3,"labelPadding":6.5,"title":null}},"y":{"field":"val","type":"quantitative","scale":{"domain":[0,109],"nice":false,"zero":false},"axis":{"values":[0,20,40,60,80,100],"labels":false,"domain":false,"tickSize":-7,"tickWidth":1.3,"title":null}}}},
{"data":{"name":"one"},"mark":{"type":"rule","color":"#222","strokeWidth":1.3},"encoding":{"x":{"datum":0.5,"type":"quantitative"},"y":{"datum":0,"type":"quantitative"},"y2":{"datum":100}}},
{"data":{"name":"one"},"mark":{"type":"text","text":"H1ssF gN38","fontSize":14.5,"align":"center","baseline":"middle","color":"#111"},"encoding":{"x":{"datum":1.4875,"type":"quantitative"},"y":{"datum":114.5,"type":"quantitative"}}}
]},
{"width":100,"height":218,"layer":[
{"data":{"name":"means"},"transform":[{"filter":"datum.row==='b'&&datum.panel==='R38'"}],"mark":{"type":"tick","orient":"horizontal","size":31,"thickness":1.3,"color":"#111","opacity":1},"encoding":{"x":{"field":"pos","type":"quantitative","scale":{"domain":[0.5,2.475],"nice":false,"zero":false}},"y":{"field":"mean","type":"quantitative","scale":{"domain":[0,109],"nice":false,"zero":false}}}},
{"data":{"name":"pts"},"transform":[{"filter":"datum.row==='b'&&datum.panel==='R38'"}],"mark":{"type":"circle","size":72,"color":"#962A96","opacity":1,"stroke":"white","strokeWidth":0.9},"encoding":{"x":{"field":"pos","type":"quantitative","scale":{"domain":[0.5,2.475],"nice":false,"zero":false},"axis":{"values":[1,2],"labelExpr":"datum.value===1?'WT':'gN38'","ticks":false,"domain":true,"domainWidth":1.3,"labelPadding":6.5,"title":null}},"y":{"field":"val","type":"quantitative","scale":{"domain":[0,109],"nice":false,"zero":false},"axis":{"values":[0,20,40,60,80,100],"labels":false,"domain":false,"tickSize":-7,"tickWidth":1.3,"title":null}}}},
{"data":{"name":"one"},"mark":{"type":"rule","color":"#222","strokeWidth":1.3},"encoding":{"x":{"datum":0.5,"type":"quantitative"},"y":{"datum":0,"type":"quantitative"},"y2":{"datum":100}}},
{"data":{"name":"one"},"mark":{"type":"text","text":"H1ssF R38","fontSize":14.5,"align":"center","baseline":"middle","color":"#111"},"encoding":{"x":{"datum":1.4875,"type":"quantitative"},"y":{"datum":114.5,"type":"quantitative"}}}
]}
],"spacing":39,"bounds":"flush"}
]
}
